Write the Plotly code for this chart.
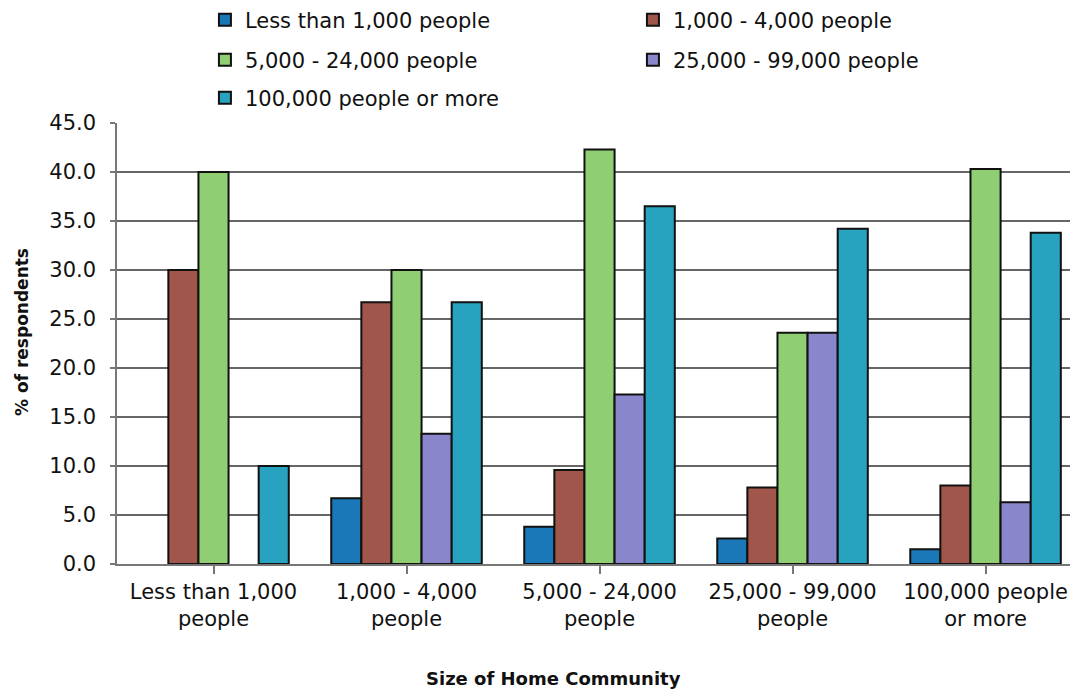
import plotly.graph_objects as go

categories = ["Less than 1,000<br>people", "1,000 - 4,000<br>people", "5,000 - 24,000<br>people",
              "25,000 - 99,000<br>people", "100,000 people<br>or more"]
series_names = ["Less than 1,000 people", "1,000 - 4,000 people", "5,000 - 24,000 people",
                "25,000 - 99,000 people", "100,000 people or more"]
less_1000 = [0.0, 6.7, 3.8, 2.6, 1.5]
s1000_4000 = [30.0, 26.7, 9.6, 7.8, 8.0]
s5000_24000 = [40.0, 30.0, 42.3, 23.6, 40.3]
s25000_99000 = [0.0, 13.3, 17.3, 23.6, 6.3]
s100000_plus = [10.0, 26.7, 36.5, 34.2, 33.8]
y_ticks = [0, 5, 10, 15, 20, 25, 30, 35, 40, 45]

colors = ["#1b78b8", "#a0564a", "#8fce72", "#8a86cc", "#28a3bf"]
values = [less_1000, s1000_4000, s5000_24000, s25000_99000, s100000_plus]
legend_rows = ["legend", "legend", "legend2", "legend2", "legend3"]

FONT = "'DejaVu Sans', Verdana, sans-serif"
TXT = "#111111"
FIG_W, FIG_H = 1070, 684   # page body has an 8px margin

fig = go.Figure()
for name, vals, c, lg in zip(series_names, values, colors, legend_rows):
    fig.add_trace(go.Bar(
        x=list(range(len(categories))), y=[v if v > 0 else None for v in vals], name=name,
        marker=dict(color=c, line=dict(color="#111111", width=2)),
        legend=lg,
    ))

def legend_row(yc):
    return dict(
        orientation="h", x=0.0915, xanchor="left",
        yref="container", y=1 - (yc - 8) / FIG_H, yanchor="middle",
        font=dict(family=FONT, size=21, color=TXT),
        entrywidth=383, entrywidthmode="pixels", itemwidth=30,
        traceorder="normal", bgcolor="rgba(0,0,0,0)",
    )

fig.update_layout(
    width=FIG_W, height=FIG_H,
    margin=dict(l=109, r=0, t=115, b=128, autoexpand=False),
    paper_bgcolor="white", plot_bgcolor="white",
    barmode="group", bargap=0.22, bargroupgap=0,
    font=dict(family=FONT, size=21, color=TXT),
    showlegend=True,
    legend=legend_row(20),
    legend2=legend_row(60),
    legend3=legend_row(98),
    xaxis=dict(
        range=[-0.5, 4.479], automargin=False,
        tickmode="array", tickvals=list(range(len(categories))), ticktext=categories,
        tickson="boundaries", ticks="outside", ticklen=8, tickcolor="#777777", tickwidth=1.5,
        showline=True, linecolor="#777777", linewidth=1.5,
        showgrid=False, tickfont=dict(family=FONT, size=21, color=TXT),
        fixedrange=True,
    ),
    yaxis=dict(
        range=[0, 45], automargin=False, tickmode="array", tickvals=y_ticks,
        ticktext=[f"{v:.1f}" for v in y_ticks],
        ticks="outside", ticklen=5, tickcolor="#777777", tickwidth=1.5,
        ticklabelstandoff=10,
        showline=True, linecolor="#777777", linewidth=1.5,
        showgrid=True, gridcolor="#666666", gridwidth=1.5,
        zeroline=False,
        tickfont=dict(family=FONT, size=21, color=TXT),
    ),
    annotations=[
        dict(text="<b>Size of Home Community</b>", xref="paper", yref="paper",
             x=(553 - 117) / 961, y=-(678 - 564) / 441, xanchor="center", yanchor="middle",
             showarrow=False, font=dict(family=FONT, size=18, color=TXT)),
        dict(text="<b>% of respondents</b>", xref="paper", yref="paper", textangle=-90,
             x=(22 - 117) / 961, y=(564 - 332) / 441, xanchor="center", yanchor="middle",
             showarrow=False, font=dict(family=FONT, size=17, color=TXT)),
    ],
)

fig.write_html("out.html")
